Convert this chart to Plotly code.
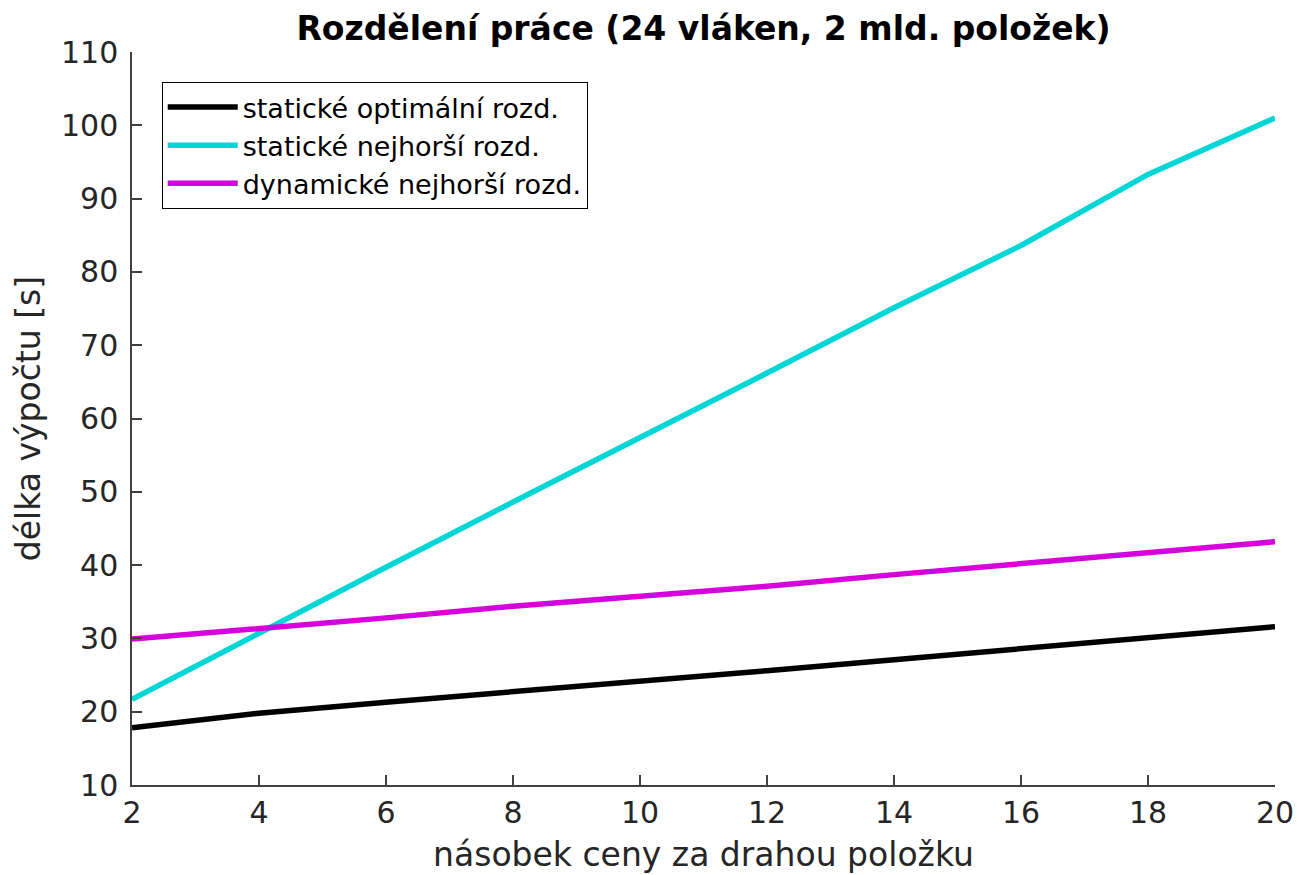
import plotly.graph_objects as go

x_vals = [2, 4, 6, 8, 10, 12, 14, 16, 18, 20]
static_opt = [17.8, 19.8, 21.3, 22.7, 24.2, 25.6, 27.1, 28.6, 30.0, 31.6]
static_worst = [21.7, 30.8, 39.7, 48.6, 57.3, 66.2, 75.1, 83.6, 93.3, 101.0]
dynamic_worst = [29.9, 31.3, 32.8, 34.4, 35.8, 37.1, 38.7, 40.2, 41.6, 43.2]

names = ["statické optimální rozd.", "statické nejhorší rozd.", "dynamické nejhorší rozd."]
colors = ["#000000", "#00d6d6", "#d600dc"]
x_ticks = [2, 4, 6, 8, 10, 12, 14, 16, 18, 20]
y_ticks = [10, 20, 30, 40, 50, 60, 70, 80, 90, 100, 110]

FONT = "DejaVu Sans"
AX = "#404040"
TXT = "#262626"

W, H = 1299, 875

fig = go.Figure()
for name, ys, c in zip(names, [static_opt, static_worst, dynamic_worst], colors):
    fig.add_trace(go.Scatter(x=x_vals, y=ys, mode="lines", name=name,
                             line=dict(color=c, width=5.5)))

fig.update_layout(
    width=W, height=H,
    margin=dict(l=132, r=24, t=52, b=90),
    paper_bgcolor="white", plot_bgcolor="white",
    font=dict(family=FONT, color=TXT),
    title=dict(text="<b>Rozdělení práce (24 vláken, 2 mld. položek)</b>",
               x=703.5 / W, xanchor="center", y=1 - 28 / H, yanchor="middle",
               font=dict(family=FONT, size=33, color="#000000")),
    showlegend=True,
    legend=dict(x=0.026, y=0.959, xanchor="left", yanchor="top",
                bgcolor="white", bordercolor="#000000", borderwidth=1,
                font=dict(family=FONT, size=27, color="#000000"),
                tracegroupgap=0, itemwidth=70),
    xaxis=dict(range=[2, 20], tickvals=x_ticks, ticktext=[str(v) for v in x_ticks],
               showline=True, linecolor=AX, linewidth=1.5, mirror=False,
               ticks="inside", ticklen=10, tickcolor=AX, tickwidth=1.5,
               ticklabeloverflow="allow", automargin=False,
               showgrid=False, zeroline=False,
               tickfont=dict(family=FONT, size=30, color=TXT),
               title=dict(text="násobek ceny za drahou položku",
                          font=dict(family=FONT, size=33, color=TXT), standoff=14)),
    yaxis=dict(range=[10, 110], tickvals=y_ticks, ticktext=[str(v) for v in y_ticks],
               showline=True, linecolor=AX, linewidth=1.5, mirror=False,
               ticks="inside", ticklen=10, tickcolor=AX, tickwidth=1.5,
               ticklabelstandoff=6, automargin=False,
               showgrid=False, zeroline=False,
               tickfont=dict(family=FONT, size=30, color=TXT),
               title=dict(text="délka výpočtu [s]",
                          font=dict(family=FONT, size=33, color=TXT), standoff=10)),
)

fig.write_html("out.html", config={"displayModeBar": False},
               post_script="document.body.style.margin='0';document.body.style.overflow='hidden';")
